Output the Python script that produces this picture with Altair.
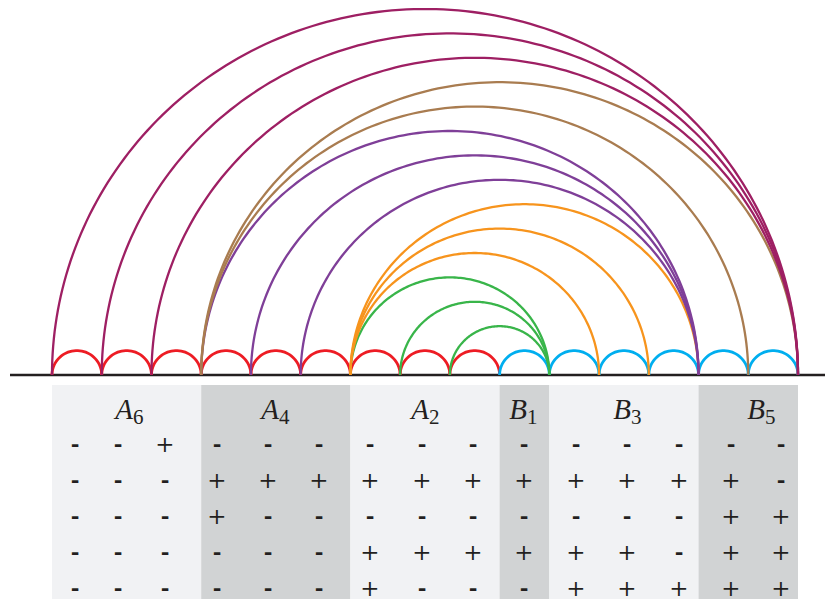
import numpy as np
import pandas as pd
import altair as alt

# ---------------- data ----------------
N_NODES = 16
# small semicircles between consecutive nodes
small_red_nodes = list(range(0, 9))      # arcs i -> i+1, red
small_blue_nodes = list(range(9, 15))    # arcs i -> i+1, blue

# large arcs (start node, end node, family), drawn inner first
arc_start = [6, 7, 8, 6, 6, 6, 5, 4, 3, 3, 3, 2, 1, 0]
arc_end = [10, 10, 10, 11, 12, 13, 13, 13, 13, 14, 15, 15, 15, 15]
arc_family = (["green"] * 3 + ["orange"] * 3 + ["purple"] * 3
              + ["brown"] * 2 + ["crimson"] * 3)

# groups shown under the baseline
group_letter = ["A", "A", "A", "B", "B", "B"]
group_sub = ["6", "4", "2", "1", "3", "5"]
group_start = [0, 3, 6, 9, 10, 13]
group_end = [3, 6, 9, 10, 13, 15]
group_shade = ["light", "dark", "light", "dark", "light", "dark"]

# sign table (5 rows x 15 columns)
sign_rows = [
    ["-", "-", "+", "-", "-", "-", "-", "-", "-", "-", "-", "-", "-", "-", "-"],
    ["-", "-", "-", "+", "+", "+", "+", "+", "+", "+", "+", "+", "+", "+", "-"],
    ["-", "-", "-", "+", "-", "-", "-", "-", "-", "-", "-", "-", "-", "+", "+"],
    ["-", "-", "-", "-", "-", "-", "+", "+", "+", "+", "+", "+", "-", "+", "+"],
    ["-", "-", "-", "-", "-", "-", "+", "-", "-", "-", "+", "+", "+", "+", "+"],
]

# ---------------- layout ----------------
W, H = 817, 591
KX = 49.733               # px per node step (x)
KY = 48.8                 # px per unit (y)
X0 = 44                   # plot px of node 0
Y0 = 367                  # plot px of baseline
xdom = [-X0 / KX, (W - X0) / KX]
ydom = [-(H - Y0) / KY, Y0 / KY]

def ux(page_x):
    return (page_x - 8 - X0) / KX

def uy(page_y):
    return (Y0 - (page_y - 8)) / KY

sign_col_page_x = [75, 118, 165, 217, 268, 319, 370, 422, 473, 524, 576, 627, 679, 731, 781]
sign_row_page_y = [444.5, 480.5, 516.5, 552.5, 588.5]
label_split_page_x = [133, 279, 429, 527, 631, 765]

family_domain = ["red", "blue", "green", "orange", "purple", "brown", "crimson"]
family_range = ["#ed1c24", "#00aeef", "#39b54a", "#f7941d", "#7f3f98", "#a97c50", "#9e1f63"]

# ---------------- build tables ----------------
def arc_points(a, b, npts=90):
    c = (a + b) / 2.0
    r = (b - a) / 2.0
    t = np.linspace(np.pi, 0, npts)
    return c + r * np.cos(t), r * np.sin(t)

rows = []
for i in small_red_nodes + small_blue_nodes:
    fam = "red" if i in small_red_nodes else "blue"
    xs, ys = arc_points(i, i + 1, 40)
    for k, (x, y) in enumerate(zip(xs, ys)):
        rows.append({"id": f"s{i:02d}", "family": fam, "x": x, "y": y, "k": k})
small_df = pd.DataFrame(rows)

rows = []
for j, (a, b, fam) in enumerate(zip(arc_start, arc_end, arc_family)):
    xs, ys = arc_points(a, b, 160)
    for k, (x, y) in enumerate(zip(xs, ys)):
        rows.append({"id": f"b{j:02d}", "family": fam, "x": x, "y": y, "k": k})
big_df = pd.DataFrame(rows)

band_df = pd.DataFrame({
    "x": group_start, "x2": group_end, "shade": group_shade,
    "y": [uy(385)] * len(group_start), "y2": [ydom[0]] * len(group_start),
})

label_df = pd.DataFrame({
    "letter": group_letter, "sub": group_sub,
    "x": [ux(v) for v in label_split_page_x],
    "y": [uy(418.5)] * len(group_letter),
    "ys": [uy(424)] * len(group_letter),
})

sign_recs = []
for r, row in enumerate(sign_rows):
    for c, s in enumerate(row):
        sign_recs.append({"x": ux(sign_col_page_x[c]), "y": uy(sign_row_page_y[r]), "s": s})
sign_df = pd.DataFrame(sign_recs)

base_df = pd.DataFrame({"x": [ux(10)], "x2": [xdom[1]], "y": [0.0]})

# ---------------- chart ----------------
xs = alt.Scale(domain=xdom, nice=False, zero=False)
ys = alt.Scale(domain=ydom, nice=False, zero=False)
color = alt.Color("family:N", scale=alt.Scale(domain=family_domain, range=family_range), legend=None)

bands = alt.Chart(band_df).mark_rect().encode(
    x=alt.X("x:Q", scale=xs, axis=None), x2="x2:Q",
    y=alt.Y("y:Q", scale=ys, axis=None), y2="y2:Q",
    color=alt.Color("shade:N", scale=alt.Scale(domain=["light", "dark"], range=["#f1f2f4", "#d1d3d4"]), legend=None),
)

baseline = alt.Chart(base_df).mark_rule(color="#231f20", strokeWidth=2.6).encode(
    x=alt.X("x:Q", scale=xs, axis=None), x2="x2:Q",
    y=alt.Y("y:Q", scale=ys, axis=None),
)

small = alt.Chart(small_df).mark_line(strokeWidth=2.8, interpolate="linear").encode(
    x=alt.X("x:Q", scale=xs, axis=None), y=alt.Y("y:Q", scale=ys, axis=None),
    detail="id:N", order="k:Q", color=color,
)

big = alt.Chart(big_df).mark_line(strokeWidth=2.3, interpolate="linear").encode(
    x=alt.X("x:Q", scale=xs, axis=None), y=alt.Y("y:Q", scale=ys, axis=None),
    detail="id:N", order="k:Q", color=color,
)

letters = alt.Chart(label_df).mark_text(
    align="right", baseline="alphabetic", font="Liberation Serif", fontStyle="italic",
    fontSize=29, color="#231f20",
).encode(x=alt.X("x:Q", scale=xs, axis=None), y=alt.Y("y:Q", scale=ys, axis=None), text="letter:N")

subs = alt.Chart(label_df).mark_text(
    align="left", baseline="alphabetic", font="Liberation Serif",
    fontSize=21, color="#231f20",
).encode(x=alt.X("x:Q", scale=xs, axis=None), y=alt.Y("ys:Q", scale=ys, axis=None), text="sub:N")

plus_signs = alt.Chart(sign_df).transform_filter(alt.datum.s == "+").mark_text(
    align="center", baseline="middle", font="DejaVu Serif",
    fontSize=23, color="#231f20",
).encode(x=alt.X("x:Q", scale=xs, axis=None), y=alt.Y("y:Q", scale=ys, axis=None), text="s:N")

minus_signs = alt.Chart(sign_df).transform_filter(alt.datum.s == "-").mark_text(
    align="center", baseline="middle", font="DejaVu Serif", fontWeight="bold",
    fontSize=21, color="#231f20",
).encode(x=alt.X("x:Q", scale=xs, axis=None), y=alt.Y("y:Q", scale=ys, axis=None), text="s:N")

chart = alt.layer(bands, baseline, small, big, letters, subs, plus_signs, minus_signs).resolve_scale(
    color="independent"
).properties(
    width=W, height=H, padding=0, autosize=alt.AutoSizeParams(type="none"),
    background="white",
).configure_view(stroke=None)

chart.save("out.html", embed_options={"renderer": "svg", "actions": False})
